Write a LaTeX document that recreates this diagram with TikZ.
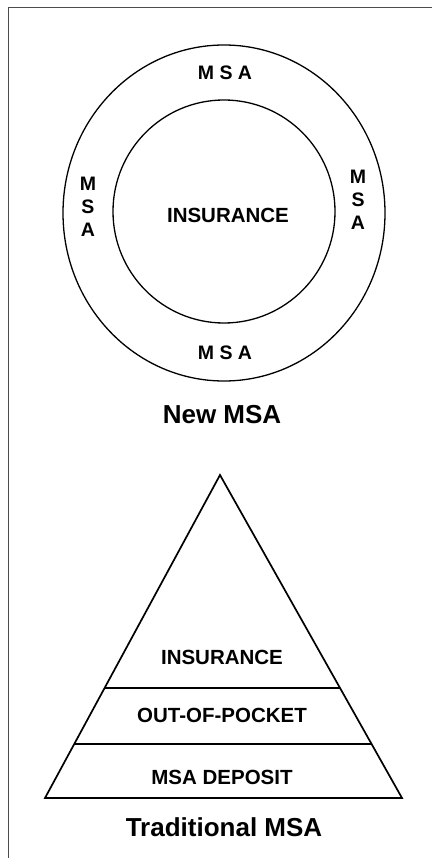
\documentclass[tikz,border=0pt]{standalone}
\usepackage{fontspec}
\setmainfont{Liberation Sans}
\usepackage{tikz}
\usetikzlibrary{calc}

\begin{document}
\begin{tikzpicture}[
    x=1pt, y=-1pt,
    inner/.style={
        font=\fontsize{20.5}{23}\selectfont\bfseries,
        align=center,
        inner sep=0pt
    },
    ringtext/.style={
        font=\fontsize{19.5}{23}\selectfont\bfseries,
        align=center,
        inner sep=0pt
    },
    caption/.style={
        font=\fontsize{26}{30}\selectfont\bfseries,
        inner sep=0pt
    },
    ring/.style={line width=1.3pt},
    pyramid/.style={line width=1.7pt, line join=miter}
]
    \useasboundingbox (0,0) rectangle (432,858);

    % Frame
    \coordinate (fbl) at (8,858);
    \coordinate (ftl) at (8,8);
    \coordinate (ftr) at (432,8);
    \draw[black!70, line width=1pt] (fbl) -- (ftl) -- (ftr);

    % New MSA
    \coordinate (ctr) at (224,213);
    \draw[ring] (ctr) ellipse [x radius=161pt, y radius=168pt];
    \draw[ring] (224,211.5) ellipse [x radius=111pt, y radius=111.5pt];
    \node[inner] (core) at (228,215) {INSURANCE};
    \node[ringtext] (msatop) at (225,73) {M S A};
    \node[ringtext] (msabot) at (225,353) {M S A};
    \node[ringtext] (msaleft) at (88,207) {M\\S\\A};
    \node[ringtext] (msaright) at (358,200) {M\\S\\A};
    \node[caption] (newmsa) at (222,415) {New MSA};

    % Traditional MSA
    \coordinate (apex) at (220,475);
    \coordinate (bl) at (45,798);
    \coordinate (br) at (402,798);
    \draw[pyramid] (apex) -- (br) -- (bl) -- cycle;
    \draw[pyramid] ($(apex)!0.6594!(bl)$) -- ($(apex)!0.6594!(br)$);
    \draw[pyramid] ($(apex)!0.8328!(bl)$) -- ($(apex)!0.8328!(br)$);
    \node[inner] (ins) at (222,657) {INSURANCE};
    \node[inner] (oop) at (222,715) {OUT-OF-POCKET};
    \node[inner] (dep) at (222,777) {MSA DEPOSIT};
    \node[caption] (tradmsa) at (224,827) {Traditional MSA};
\end{tikzpicture}
\end{document}
